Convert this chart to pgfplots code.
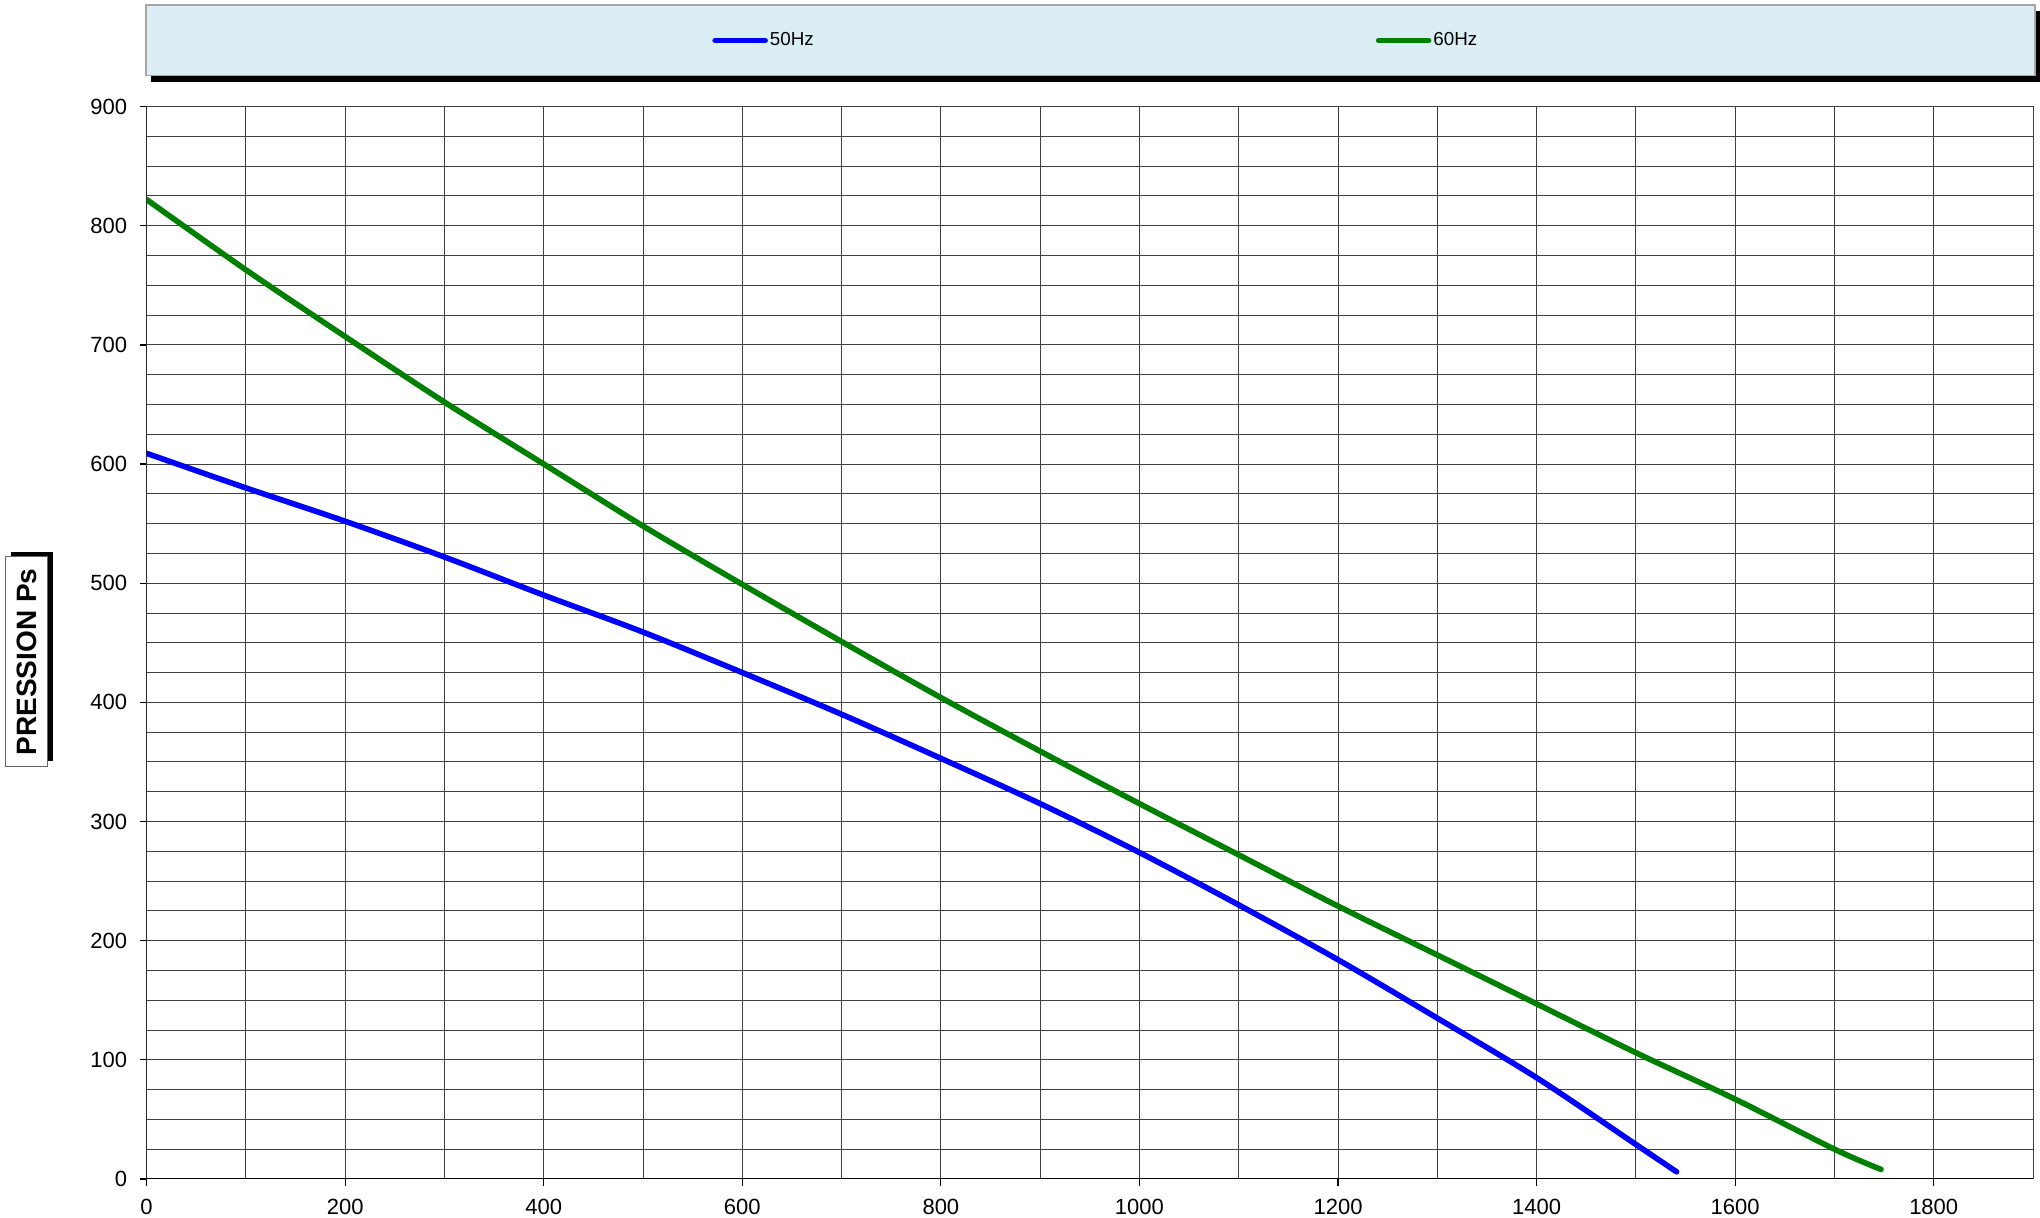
\documentclass[border=0pt]{standalone}
\usepackage{pgfplots}
\pgfplotsset{compat=1.18}
\usepackage{fontspec}
\setmainfont{Liberation Sans}
\definecolor{legbg}{RGB}{219,238,244}
\definecolor{gridc}{RGB}{65,65,65}
\definecolor{cgreen}{RGB}{0,128,0}
\definecolor{cblue}{RGB}{0,0,255}
\begin{document}
\begin{tikzpicture}[x=1pt,y=1pt]
\useasboundingbox (0,0) rectangle (1020,609);
% legend frame with shadow
\fill[black] (75.5,568.2) rectangle (1020,603.5);
\filldraw[fill=legbg, draw=black!35, line width=0.6pt] (73,571.2) rectangle (1017.5,606.5);
% y label box with shadow
\fill[black] (5.5,228.5) rectangle (26.35,333);
\filldraw[fill=white, draw=black!60, line width=0.5pt] (2.5,225.5) rectangle (23.85,330.5);
\node[rotate=90, inner sep=0pt, font=\bfseries\fontsize{14}{16}\selectfont] at (13.4,278) {PRESSION Ps};
\begin{axis}[
  at={(73.3pt,19.5pt)}, anchor=south west,
  scale only axis, width=943.2pt, height=536.2pt,
  xmin=0, xmax=1900, ymin=0, ymax=900,
  xtick={0,200,...,1800}, ytick={0,100,...,900},
  minor x tick num=1, minor y tick num=3,
  grid=both,
  major grid style={gridc, line width=0.5pt},
  minor grid style={gridc, line width=0.5pt},
  tick align=outside, major tick length=3.5pt, minor tick length=0pt,
  xtick pos=bottom, ytick pos=left,
  tick style={black, line width=0.6pt},
  axis line style={gridc, line width=0.5pt},
  tick label style={font=\fontsize{11}{13}\selectfont},
  /pgf/number format/assume math mode=true,
  /pgf/number format/1000 sep={},
  xticklabel style={yshift=-3pt},
  yticklabel style={xshift=-2.7pt},
  legend columns=2,
  legend style={at={(0.2997,1.0616)}, anchor=west, draw=none, fill=none,
    inner sep=0pt, font=\fontsize{9.4}{11}\selectfont,
    /tikz/every even column/.style={column sep=280pt},
    nodes={inner sep=1pt}},
  legend image code/.code={\draw[#1, line cap=round] (1.5pt,0pt) -- (26.5pt,0pt);},
]
\addplot[cblue, line width=2.8pt, line cap=round, line join=round, smooth, tension=0.5] coordinates {
(0,609) (100,580) (200,552) (300,522) (400,490) (500,459) (600,425) (700,390)
(800,353) (900,315) (1000,274) (1100,230) (1200,184) (1300,135) (1400,85)
(1500,29) (1541,6)};
\addlegendentry{50Hz}
\addplot[cgreen, line width=2.8pt, line cap=round, line join=round, smooth, tension=0.5] coordinates {
(0,822) (100,763) (200,707) (300,652) (400,600) (500,548) (600,499) (700,451)
(800,404) (900,359) (1000,315) (1100,272) (1200,229) (1300,188) (1400,147)
(1500,106) (1600,67) (1700,25) (1747,8)};
\addlegendentry{60Hz}
\draw[black, line width=0.8pt] (rel axis cs:0,1) -- (rel axis cs:0,0) -- (rel axis cs:1,0);
\end{axis}
\end{tikzpicture}
\end{document}
